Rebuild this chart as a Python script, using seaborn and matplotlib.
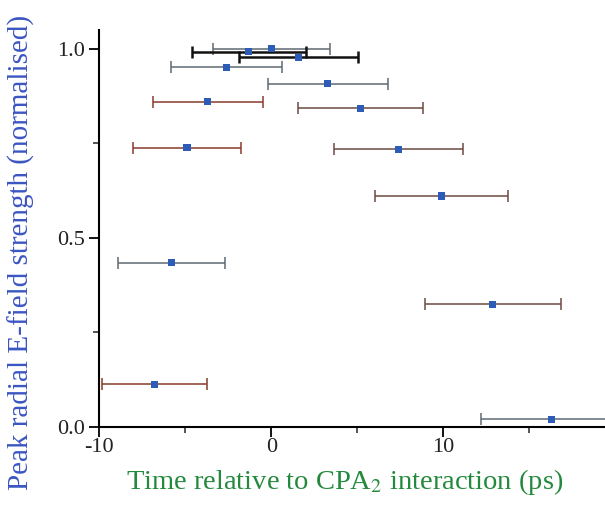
import matplotlib
matplotlib.use("Agg")
import matplotlib.pyplot as plt
import seaborn as sns
import pandas as pd
from matplotlib.ticker import MultipleLocator

# Data
time_ps = [0.0, -1.3, 1.6, -2.6, 3.3, -3.7, 5.2, -4.9, 7.4, 9.9, -5.8, 12.9, -6.8, 16.3]
field = [1.0, 0.993, 0.978, 0.951, 0.908, 0.860, 0.843, 0.739, 0.735, 0.611, 0.434, 0.325, 0.113, 0.021]
time_err = [3.4, 3.3, 3.45, 3.25, 3.5, 3.2, 3.65, 3.15, 3.75, 3.85, 3.1, 3.95, 3.05, 4.1]
bar_kind = ["gray", "black", "black", "gray", "gray", "red", "brown", "red", "brown",
            "brown", "gray", "brown", "red", "gray"]

df = pd.DataFrame({"t": time_ps, "E": field, "err": time_err, "kind": bar_kind})

kind_color = {"gray": "#5e6a72", "black": "#111111", "red": "#8a3a2c", "brown": "#6e4a42"}
kind_lw = {"gray": 1.1, "black": 1.8, "red": 1.1, "brown": 1.1}

sns.set_style("ticks")
plt.rcParams["font.family"] = ["Liberation Serif", "DejaVu Serif"]
plt.rcParams["mathtext.fontset"] = "stix"
plt.rcParams["axes.unicode_minus"] = False

fig = plt.figure(figsize=(6.05, 5.05), dpi=100)
W, H = 605, 505
left, right, top, bottom = 99.3, 615.0, 30.0, 427.0
ax = fig.add_axes([left / W, 1 - bottom / H, (right - left) / W, (bottom - top) / H])

for _, r in df.iterrows():
    ax.errorbar(r["t"], r["E"], xerr=r["err"], fmt="none",
                ecolor=kind_color[r["kind"]], elinewidth=kind_lw[r["kind"]],
                capsize=4.5, capthick=kind_lw[r["kind"]], zorder=2)

sns.scatterplot(data=df, x="t", y="E", marker="s", s=26, color="#2c5cb8",
                edgecolor="none", ax=ax, zorder=3, legend=False)

ax.set_xlim(-10, 20)
ax.set_ylim(0, 1.05)
ax.xaxis.set_major_locator(MultipleLocator(10))
ax.xaxis.set_minor_locator(MultipleLocator(5))
ax.yaxis.set_major_locator(MultipleLocator(0.5))
ax.yaxis.set_minor_locator(MultipleLocator(0.25))
ax.yaxis.set_major_formatter(matplotlib.ticker.FormatStrFormatter("%.1f"))
ax.tick_params(axis="both", which="major", length=7, width=1.3, labelsize=16,
               direction="out", color="black", labelcolor="#222222")
ax.tick_params(axis="both", which="minor", length=4, width=1.1, direction="out")
ax.tick_params(axis="x", pad=1)
ax.tick_params(axis="y", pad=3)
for s in ["top", "right"]:
    ax.spines[s].set_visible(False)
for s in ["left", "bottom"]:
    ax.spines[s].set_linewidth(1.5)
    ax.spines[s].set_color("black")
ax.set_xlabel("")
ax.set_ylabel("")

fig.text(345 / W, 1 - 482 / H, "Time relative to CPA$_2$ interaction (ps)",
         color="#23893c", fontsize=20.5, ha="center", va="center")
fig.text(21 / W, 1 - 252 / H, "Peak radial E-field strength (normalised)",
         color="#3b55c2", fontsize=21, ha="center", va="center", rotation=90)

fig.savefig("out.png", dpi=100)
